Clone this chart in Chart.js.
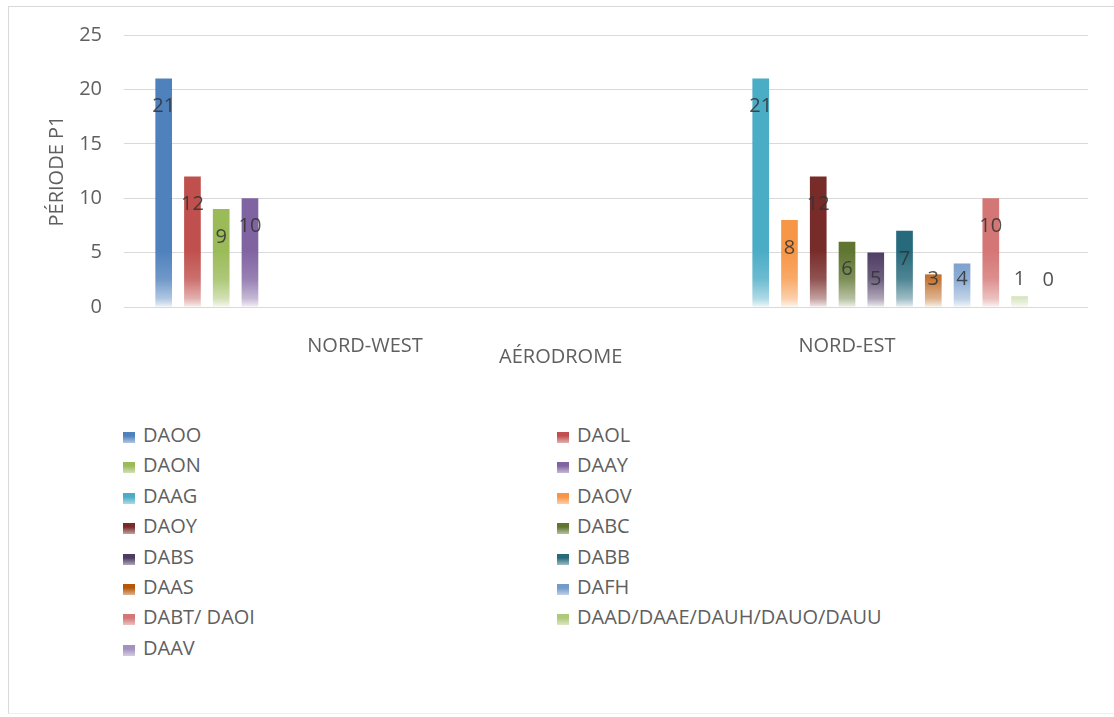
<!DOCTYPE html>
<html>
<head>
<meta charset="utf-8">
<script src="https://cdn.jsdelivr.net/npm/chart.js@4.4.1/dist/chart.umd.min.js"></script>
<style>
  html, body { margin: 0; padding: 0; background: #fff; }
  body { width: 1114px; height: 717px; position: relative; overflow: hidden; }
  .frame {
    position: absolute; left: 8px; top: 6px; width: 1120px; height: 706px;
    border: 1px solid #d9d9d9; border-bottom-color: #eeeeee;
  }
  #wrap { position: absolute; left: 0; top: 0; width: 1114px; height: 400px; }
  #legend {
    position: absolute; left: 123px; top: 420px;
    display: grid; grid-template-columns: 434px 434px;
    font-family: 'Open Sans', sans-serif; font-size: 20px; color: #5f5f5f;
  }
  #legend .item { height: 30.4px; line-height: 30.4px; white-space: nowrap; }
  #legend .box {
    display: inline-block; width: 12px; height: 11px; margin-right: 8px;
    vertical-align: -1px;
  }
</style>
</head>
<body>
<div class="frame"></div>
<div id="wrap"><canvas id="chart" width="1114" height="400"></canvas></div>
<div id="legend"></div>
<script>
const aerodromes = ["NORD-WEST", "NORD-EST"];
const stations = [
    "DAOO", "DAOL", "DAON", "DAAY", "DAAG", "DAOV", "DAOY", "DABC",
    "DABS", "DABB", "DAAS", "DAFH", "DABT/ DAOI", "DAAD/DAAE/DAUH/DAUO/DAUU", "DAAV",
];
// period P1 counts per station, one array per aerodrome group
const nordWest = [21, 12, 9, 10, null, null, null, null, null, null, null, null, null, null, null];
const nordEst = [null, null, null, null, 21, 8, 12, 6, 5, 7, 3, 4, 10, 1, 0];
const yTicks = [0, 5, 10, 15, 20, 25];

const colors = [
    "#4F81BD", "#C0504D", "#9BBB59", "#8064A2", "#4BACC6", "#F79646", "#772C2A", "#5F7530",
    "#4D3B62", "#276A7C", "#B65708", "#729ACA", "#D47675", "#AFC97A", "#A391C0",
];

function rgba(hex, a) {
    const n = parseInt(hex.slice(1), 16);
    return "rgba(" + (n >> 16) + "," + ((n >> 8) & 255) + "," + (n & 255) + "," + a + ")";
}

// bars fade out towards the baseline
function fade(hex) {
    return (context) => {
        const chart = context.chart;
        if (!chart.chartArea) return hex;
        const y = chart.scales.y;
        const g = chart.ctx.createLinearGradient(0, y.getPixelForValue(5.2), 0, y.getPixelForValue(0));
        g.addColorStop(0, rgba(hex, 1));
        g.addColorStop(0.5, rgba(hex, 0.82));
        g.addColorStop(0.85, rgba(hex, 0.45));
        g.addColorStop(1, rgba(hex, 0.1));
        return g;
    };
}

const valueLabels = {
    id: "valueLabels",
    afterDatasetsDraw(chart) {
        const ctx = chart.ctx;
        ctx.save();
        ctx.font = "20px 'Open Sans', sans-serif";
        ctx.fillStyle = "rgba(50,50,50,0.85)";
        ctx.textAlign = "center";
        ctx.textBaseline = "middle";
        chart.data.datasets.forEach((ds, i) => {
            const meta = chart.getDatasetMeta(i);
            meta.data.forEach((bar, j) => {
                const v = ds.data[j];
                if (v === null || v === undefined) return;
                const y = Math.min(bar.y + 28, bar.base - 27);
                ctx.fillText(String(v), bar.x, y);
            });
        });
        ctx.restore();
    },
};

const xTitle = {
    id: "xTitle",
    afterDraw(chart) {
        const a = chart.chartArea;
        const ctx = chart.ctx;
        ctx.save();
        ctx.font = "20px 'Open Sans', sans-serif";
        ctx.fillStyle = "#5f5f5f";
        ctx.textAlign = "center";
        ctx.textBaseline = "middle";
        ctx.fillText("AÉRODROME", a.left + a.width * 0.453, a.bottom + 50);
        ctx.restore();
    },
};

Chart.defaults.font.family = "'Open Sans', sans-serif";
Chart.defaults.font.size = 20;
Chart.defaults.color = "#5f5f5f";

const datasets = stations.map((name, i) => ({
    label: name,
    data: [nordWest[i], nordEst[i]],
    backgroundColor: fade(colors[i]),
    borderWidth: 0,
    categoryPercentage: 0.895,
    barPercentage: 0.58,
}));

var chart = new Chart(document.querySelector("#chart").getContext("2d"), {
    type: "bar",
    data: { labels: aerodromes, datasets: datasets },
    plugins: [valueLabels, xTitle],
    options: {
        responsive: false,
        animation: false,
        layout: { padding: { left: 0, right: 26, top: 35, bottom: 33 } },
        scales: {
            x: {
                grid: { display: false },
                border: { display: false },
                ticks: { padding: 19, maxRotation: 0 },
                afterFit: (scale) => { scale.height = 60; },
            },
            y: {
                min: 0,
                max: 25,
                afterBuildTicks: (scale) => { scale.ticks = yTicks.map((v) => ({ value: v })); },
                grid: { color: "#d9d9d9", lineWidth: 1, drawTicks: false },
                border: { display: false },
                ticks: { padding: 22 },
                title: { display: true, text: "PÉRIODE P1", padding: { top: 45, bottom: 0 } },
                afterFit: (scale) => { scale.width = 124; },
            },
        },
        plugins: {
            legend: { display: false },
            tooltip: { enabled: false },
        },
    },
});

// two-column legend under the chart
const legend = document.querySelector("#legend");
stations.forEach((name, i) => {
    const item = document.createElement("div");
    item.className = "item";
    const box = document.createElement("span");
    box.className = "box";
    box.style.background = "linear-gradient(to bottom, " + rgba(colors[i], 1) + " 35%, " + rgba(colors[i], 0.45) + ")";
    item.appendChild(box);
    item.appendChild(document.createTextNode(name));
    legend.appendChild(item);
});
</script>
</body>
</html>
